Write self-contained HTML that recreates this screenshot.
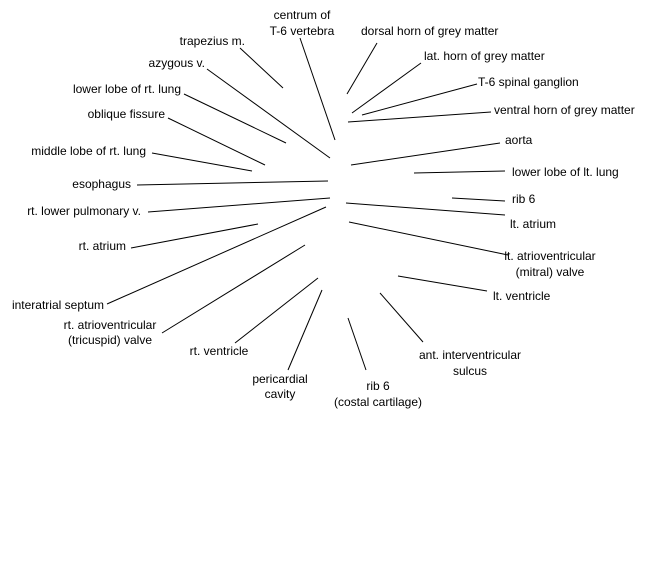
<!DOCTYPE html>
<html><head><meta charset="utf-8"><style>
html,body{margin:0;padding:0;background:#fff;width:650px;height:580px;overflow:hidden}
svg{display:block}
text{font-family:"Liberation Sans",Arial,sans-serif;font-size:12px;fill:#000}
line{stroke:#000;stroke-width:1}
</style></head><body>
<svg width="650" height="580" viewBox="0 0 650 580">
<line x1="240" y1="48" x2="283" y2="88"/>
<line x1="300" y1="38" x2="335" y2="140"/>
<line x1="207" y1="69" x2="330" y2="158"/>
<line x1="184" y1="94" x2="286" y2="143"/>
<line x1="168" y1="118" x2="265" y2="165"/>
<line x1="152" y1="153" x2="252" y2="171"/>
<line x1="137" y1="185" x2="328" y2="181"/>
<line x1="148" y1="212" x2="330" y2="198"/>
<line x1="131" y1="248" x2="258" y2="224"/>
<line x1="107" y1="304" x2="326" y2="207"/>
<line x1="162" y1="333" x2="305" y2="245"/>
<line x1="235" y1="343" x2="318" y2="278"/>
<line x1="288" y1="370" x2="322" y2="290"/>
<line x1="366" y1="370" x2="348" y2="318"/>
<line x1="423" y1="342" x2="380" y2="293"/>
<line x1="487" y1="291" x2="398" y2="276"/>
<line x1="508" y1="255" x2="349" y2="222"/>
<line x1="505" y1="215" x2="346" y2="203"/>
<line x1="505" y1="201" x2="452" y2="198"/>
<line x1="505" y1="171" x2="414" y2="173"/>
<line x1="500" y1="143" x2="351" y2="165"/>
<line x1="491" y1="112" x2="348" y2="122"/>
<line x1="477" y1="84" x2="362" y2="115"/>
<line x1="421" y1="63" x2="352" y2="113"/>
<line x1="377" y1="43" x2="347" y2="94"/>
<text x="302" y="19" text-anchor="middle">centrum of</text>
<text x="302" y="35" text-anchor="middle">T-6 vertebra</text>
<text x="245" y="45" text-anchor="end">trapezius m.</text>
<text x="205" y="67" text-anchor="end">azygous v.</text>
<text x="181" y="93" text-anchor="end">lower lobe of rt. lung</text>
<text x="165" y="118" text-anchor="end">oblique fissure</text>
<text x="146" y="155" text-anchor="end">middle lobe of rt. lung</text>
<text x="131" y="188" text-anchor="end">esophagus</text>
<text x="141" y="215" text-anchor="end">rt. lower pulmonary v.</text>
<text x="126" y="250" text-anchor="end">rt. atrium</text>
<text x="104" y="309" text-anchor="end">interatrial septum</text>
<text x="110" y="329" text-anchor="middle">rt. atrioventricular</text>
<text x="110" y="344" text-anchor="middle">(tricuspid) valve</text>
<text x="219" y="355" text-anchor="middle">rt. ventricle</text>
<text x="280" y="383" text-anchor="middle">pericardial</text>
<text x="280" y="398" text-anchor="middle">cavity</text>
<text x="378" y="390" text-anchor="middle">rib 6</text>
<text x="378" y="406" text-anchor="middle">(costal cartilage)</text>
<text x="470" y="359" text-anchor="middle">ant. interventricular</text>
<text x="470" y="375" text-anchor="middle">sulcus</text>
<text x="493" y="300">lt. ventricle</text>
<text x="550" y="260" text-anchor="middle">lt. atrioventricular</text>
<text x="550" y="276" text-anchor="middle">(mitral) valve</text>
<text x="510" y="228">lt. atrium</text>
<text x="512" y="203">rib 6</text>
<text x="512" y="176">lower lobe of lt. lung</text>
<text x="505" y="144">aorta</text>
<text x="494" y="114">ventral horn of grey matter</text>
<text x="478" y="86">T-6 spinal ganglion</text>
<text x="424" y="60">lat. horn of grey matter</text>
<text x="361" y="35">dorsal horn of grey matter</text>
</svg>
</body></html>
